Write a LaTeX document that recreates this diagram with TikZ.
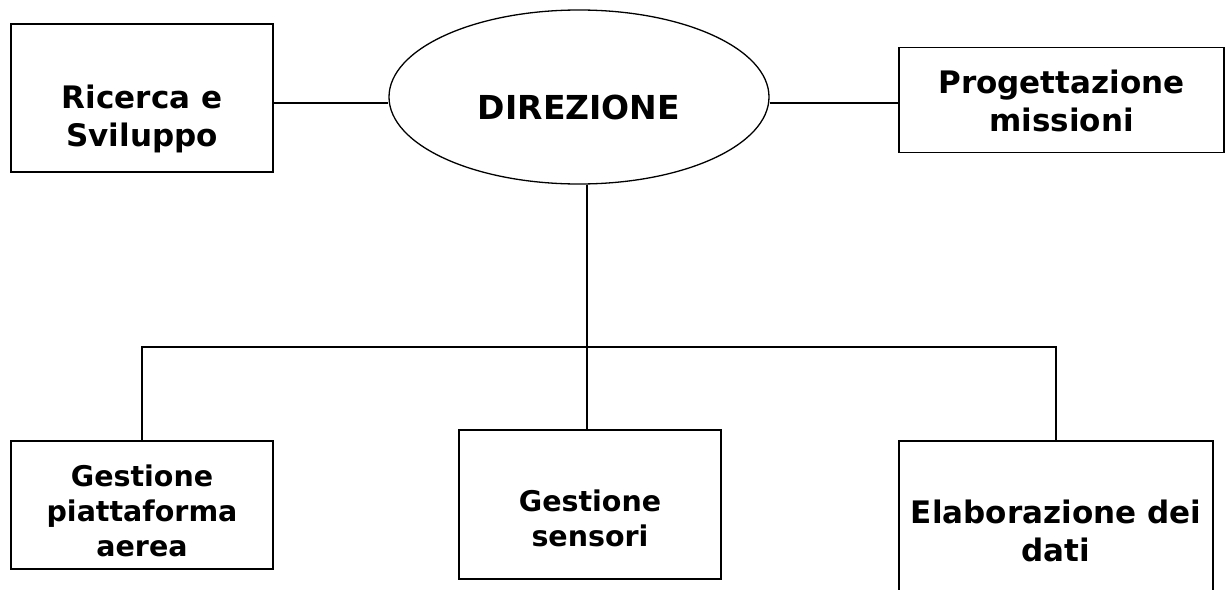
\documentclass[tikz,border=0pt]{standalone}
\usepackage{fontspec}
\setmainfont{DejaVu Sans}
\usetikzlibrary{shapes.geometric}

\newcommand{\unittext}[2]{\raisebox{-#1}[0pt][0pt]{\begin{tabular}{@{}c@{}}#2\end{tabular}}}

\begin{document}
\begin{tikzpicture}[
        x=1pt, y=-1pt,
        unit/.style={
            draw=black,
            line width=1.7pt,
            inner sep=0pt,
            minimum width=262pt,
            font=\bfseries\fontsize{31}{38}\selectfont
        },
        head/.style={
            draw=black,
            ellipse,
            line width=1.3pt,
            inner sep=0pt,
            minimum width=380pt,
            minimum height=174pt,
            font=\bfseries\fontsize{33}{40}\selectfont
        },
        small/.style={font=\bfseries\fontsize{28.5}{35}\selectfont},
        link/.style={line width=1.3pt, draw=black}
    ]
        \useasboundingbox (0,0) rectangle (1226,589);

        \node[head] (dir) at (579,97) {\unittext{21pt}{DIREZIONE}};
        \node[unit, minimum height=148pt] (rs) at (142,98) {\unittext{28pt}{Ricerca e\\Sviluppo}};
        \node[unit, minimum width=325pt, minimum height=105pt] (pm) at (1061.5,100) {\unittext{11pt}{Progettazione\\missioni}};

        \node[unit, small, minimum height=128pt] (gpa) at (142,505) {\unittext{16pt}{Gestione\\piattaforma\\aerea}};
        \node[unit, small, minimum height=149pt] (gs) at (590,504.5) {\unittext{24pt}{Gestione\\sensori}};
        \node[unit, minimum width=314pt, minimum height=160pt] (ed) at (1056,521) {\unittext{20pt}{Elaborazione dei\\dati}};

        \coordinate (bus) at (587,347);

        \draw[link] ([yshift=-5pt]rs.east) -- ([yshift=-5pt]rs.east -| dir.west);
        \draw[link] ([yshift=-3pt]pm.west) -- ([yshift=-3pt]pm.west -| dir.east);
        \draw[link] (bus |- dir.south) -- (bus);
        \draw[link] (gpa.north) |- (bus) -| (ed.north);
        \draw[link] (bus) -- (bus |- gs.north);
    \end{tikzpicture}
\end{document}
